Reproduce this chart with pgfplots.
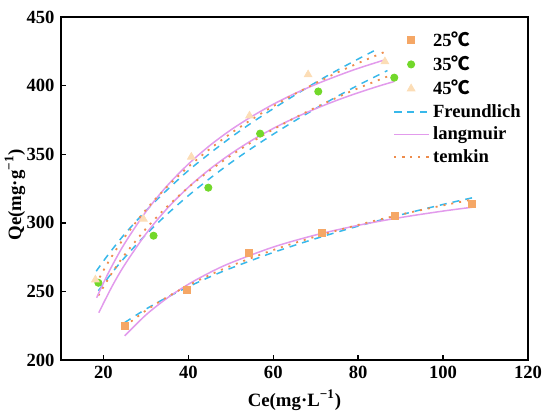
\documentclass[border=0pt]{standalone}
\usepackage{fontspec}
\setmainfont{Liberation Serif}
\newfontfamily\cjk{Noto Sans CJK SC}
\usepackage{pgfplots}
\pgfplotsset{compat=1.18}
\definecolor{csq}{HTML}{F5A766}
\definecolor{ccir}{HTML}{72D82A}
\definecolor{ctri}{HTML}{FCDDB6}
\definecolor{cfre}{HTML}{38B8EA}
\definecolor{clan}{HTML}{E29BEC}
\definecolor{ctem}{HTML}{EE8C4C}
\begin{document}
\fontsize{9.3}{11}\selectfont
\begin{tikzpicture}
\useasboundingbox (-30.5pt,-29.5pt) rectangle (244.5pt,180pt);
\begin{axis}[
  scale only axis, width=233.5pt, height=171.5pt,
  xmin=10, xmax=120, ymin=200, ymax=450,
  xtick={20,40,60,80,100,120}, ytick={200,250,300,350,400,450},
  tick align=inside, major tick length=2.5pt,
  xtick pos=bottom, ytick pos=left,
  axis line style={line width=0.9pt},
  every tick/.style={black, line width=0.7pt},
  /pgf/number format/assume math mode=true,
  tick label style={font=\fontsize{9.3}{11}\selectfont\bfseries},
  xlabel={Ce(mg·L\textsuperscript{−1})},
  ylabel={Qe(mg·g\textsuperscript{−1})},
  label style={font=\fontsize{9.4}{11}\selectfont\bfseries},
  x label style={at={(axis description cs:0.5,0)}, anchor=center, yshift=-20pt},
  y label style={at={(axis description cs:-0.0985,0.482)}, anchor=center},
  legend style={draw=none, fill=none, at={(1,1)}, anchor=north east, xshift=1.5pt, yshift=-3pt,
    font=\fontsize{9.3}{11}\selectfont\bfseries, row sep=-0.6pt},
  legend cell align=left,
]
\addplot[only marks, mark=square*, mark size=1.75pt, color=csq] coordinates {
 (25.1,224.9) (39.7,251.4) (54.3,278) (71.5,292.5) (88.7,305.3) (106.7,313.8)};
\addlegendentry{25{\cjk ℃}}
\addplot[only marks, mark=*, mark size=1.8pt, color=ccir] coordinates {
 (18.8,256.3) (31.8,290.6) (44.7,325.6) (56.9,365) (70.6,395.7) (88.5,405.8)};
\addlegendentry{35{\cjk ℃}}
\addplot[only marks, mark=triangle*, mark size=2.2pt, color=ctri] coordinates {
 (18.1,258.5) (29.4,302.8) (40.7,348) (54.4,378) (68.2,408) (86.3,417.5)};
\addlegendentry{45{\cjk ℃}}
% 25 C fits
\addplot[cfre, line width=0.75pt, dash pattern=on 3.5pt off 3pt, smooth] coordinates {
 (25,227.3) (30,237.1) (35,245.7) (40,253.4) (45,260.5) (50,266.9) (60,278.4) (70,288.5) (80,297.6) (90,305.8) (100,313.4) (107,318.3)};
\addlegendentry{Freundlich}
\addplot[clan, line width=0.75pt, smooth] coordinates {
 (25,217.6) (30,232.85) (35,245.12) (40,255.2) (45,263.66) (50,270.82) (60,282.33) (70,291.17) (80,298.17) (90,303.85) (100,308.56) (107,311.4)};
\addlegendentry{langmuir}
\addplot[ctem, line width=0.9pt, dash pattern=on 1pt off 3pt, smooth] coordinates {
 (25,224.5) (30,236.1) (35,245.9) (40,254.4) (45,261.9) (50,268.6) (60,280.2) (70,290.0) (80,298.5) (90,306.0) (100,312.7) (107,317.0)};
\addlegendentry{temkin}
% 35 C fits
\addplot[forget plot, cfre, line width=0.75pt, dash pattern=on 3.5pt off 3pt, smooth] coordinates {
 (18.8,250.5) (22,263.6) (25,274.7) (30,291.4) (35,306.3) (40,319.8) (45,332.2) (50,343.8) (55,354.5) (60,364.6) (65,374.2) (70,383.3) (75,392.0) (80,400.3) (86.9,411)};
\addplot[forget plot, clan, line width=0.75pt, smooth] coordinates {
 (18.9,234.5) (22,253.5) (25,269.4) (30,291.9) (35,310.4) (40,325.9) (45,339.0) (50,350.3) (55,360.2) (60,368.8) (65,376.4) (70,383.2) (75,389.3) (80,394.8) (85,399.8) (88.5,403.0)};
\addplot[forget plot, ctem, line width=0.9pt, dash pattern=on 1pt off 3pt, smooth] coordinates {
 (18.8,247) (22,263.4) (25,276.7) (30,295.7) (35,311.8) (40,325.8) (45,338.0) (50,349.0) (55,359.0) (60,368.1) (65,376.4) (70,384.1) (75,391.3) (80,398.1) (88,408)};
% 45 C fits
\addplot[forget plot, cfre, line width=0.75pt, dash pattern=on 3.5pt off 3pt, smooth] coordinates {
 (18.3,264.7) (20,272.1) (22,280.3) (25,291.8) (30,308.8) (35,324.0) (40,338.1) (45,350.5) (50,362.2) (55,373.1) (60,383.2) (65,392.9) (70,402.3) (75,411.1) (80,419.4) (84.5,426.6)};
\addplot[forget plot, clan, line width=0.75pt, smooth] coordinates {
 (18.4,245.4) (20,256.2) (22,268.5) (25,285.0) (30,308.1) (35,327.0) (40,342.8) (45,356.2) (50,367.7) (55,377.6) (60,386.4) (65,394.1) (70,400.9) (75,407.0) (80,412.6) (86.1,418.6)};
\addplot[forget plot, ctem, line width=0.9pt, dash pattern=on 1pt off 3pt, smooth] coordinates {
 (18.2,255) (20,265.3) (22,275.7) (25,289.6) (30,309.5) (35,326.3) (40,340.8) (45,353.7) (50,365.2) (55,375.5) (60,385.0) (65,393.8) (70,401.8) (75,409.4) (80,416.4) (86.5,424.9)};
\end{axis}
\end{tikzpicture}
\end{document}
